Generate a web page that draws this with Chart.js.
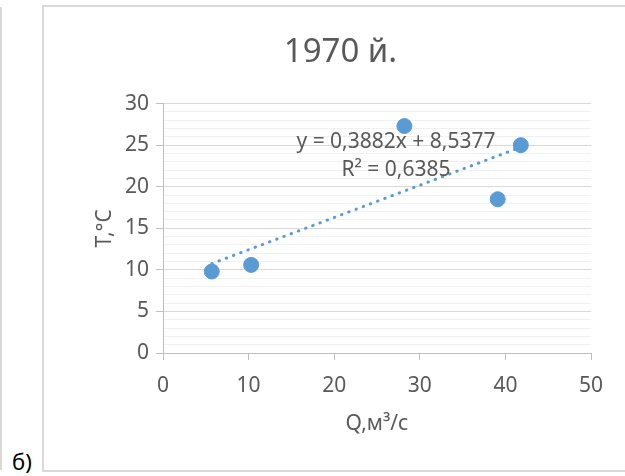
<!DOCTYPE html>
<html lang="uz">
<head>
<meta charset="UTF-8">
<title>1970 й.</title>
<style>
  body { margin: 0; background: #fff; width: 625px; height: 476px; overflow: hidden; position: relative; font-family: 'Noto Sans', sans-serif; }
  .frame { position: absolute; left: 42px; top: 5px; width: 600px; height: 463px; border: 2px solid #d9d9d9; border-right: none; }
  .prev-frame { position: absolute; left: 0; top: 7px; width: 2px; height: 463px; background: #d9d9d9; }
  .caption { position: absolute; left: 12px; top: 446px; font-size: 22px; color: #000; }
  #chart { position: absolute; left: 0; top: 0; }
</style>
</head>
<body>
<div class="prev-frame"></div>
<div class="frame"></div>
<div class="caption">б)</div>
<canvas id="chart" width="625" height="476"></canvas>
<script src="https://cdn.jsdelivr.net/npm/chart.js"></script>
<script>
// values
const flowQ = [5.7, 10.3, 28.2, 39.1, 41.8];      // Q, m3/s
const tempT = [9.8, 10.6, 27.3, 18.5, 25.0];      // T, °C
const xTickStep = 10, xMax = 50;
const yTickStep = 5, yMax = 30;
const trendSlope = 0.3882;
const trendIntercept = 8.5377;
const equationLines = ['y = 0,3882x + 8,5377', 'R² = 0,6385'];

const FONT = "'Noto Sans', sans-serif";
const TEXT = '#595959';
const BLUE = '#5b9bd5';

const points = flowQ.map((q, i) => ({ x: q, y: tempT[i] }));
const qMin = Math.min(...flowQ), qMax = Math.max(...flowQ);
const trend = [qMin, qMax].map(q => ({ x: q, y: trendSlope * q + trendIntercept }));

// trendline label
const equationPlugin = {
    id: 'equation',
    afterDatasetsDraw(chart) {
        const ctx = chart.ctx, ca = chart.chartArea;
        ctx.save();
        ctx.fillStyle = TEXT;
        ctx.font = '21px ' + FONT;
        ctx.textAlign = 'center';
        ctx.textBaseline = 'middle';
        ctx.fillText(equationLines[0], ca.left + 233, ca.top + 38);
        ctx.fillText(equationLines[1], ca.left + 233, ca.top + 66);
        ctx.restore();
    }
};

new Chart(document.getElementById('chart'), {
    type: 'scatter',
    data: {
        datasets: [
            {
                label: 'T',
                data: points,
                backgroundColor: BLUE,
                borderColor: BLUE,
                pointRadius: 7.5,
                pointHoverRadius: 7.5,
                order: 2
            },
            {
                label: 'trend',
                data: trend,
                showLine: true,
                borderColor: BLUE,
                borderWidth: 3,
                borderDash: [0.5, 7.2],
                borderCapStyle: 'round',
                pointRadius: 0,
                fill: false,
                order: 1
            }
        ]
    },
    options: {
        responsive: false,
        animation: false,
        layout: { padding: { left: 90, right: 34, top: 12, bottom: 35 } },
        plugins: {
            legend: { display: false },
            tooltip: { enabled: false },
            title: {
                display: true,
                text: '1970 й.',
                color: TEXT,
                font: { size: 33, family: FONT, weight: 'normal' },
                padding: { top: 21, bottom: 31 }
            }
        },
        scales: {
            x: {
                type: 'linear',
                min: 0,
                max: xMax,
                ticks: { stepSize: xTickStep, color: TEXT, font: { size: 21, family: FONT }, padding: 13 },
                grid: { drawOnChartArea: false, tickLength: 7, color: '#bfbfbf' },
                border: { color: '#bfbfbf' },
                title: {
                    display: true,
                    text: 'Q,м³/с',
                    color: TEXT,
                    font: { size: 21, family: FONT },
                    padding: { top: 0, bottom: 4 }
                },
                afterFit(s) { s.height = 88; }
            },
            y: {
                min: 0,
                max: yMax,
                ticks: {
                    stepSize: 1,
                    autoSkip: false,
                    color: TEXT,
                    font: { size: 21, family: FONT },
                    padding: 7,
                    callback: v => (v % yTickStep === 0 ? v : '')
                },
                grid: {
                    tickLength: 7,
                    color: c => (c.tick && c.tick.value % yTickStep === 0 ? '#d9d9d9' : '#f0f0f0'),
                    tickColor: c => (c.tick && c.tick.value % yTickStep === 0 ? '#bfbfbf' : 'rgba(0,0,0,0)')
                },
                border: { color: '#bfbfbf' },
                title: {
                    display: true,
                    text: 'T,°C',
                    color: TEXT,
                    font: { size: 21, family: FONT },
                    padding: { top: 2, bottom: 0 }
                },
                afterFit(s) { s.width = 73; }
            }
        }
    },
    plugins: [equationPlugin]
});
</script>
</body>
</html>
